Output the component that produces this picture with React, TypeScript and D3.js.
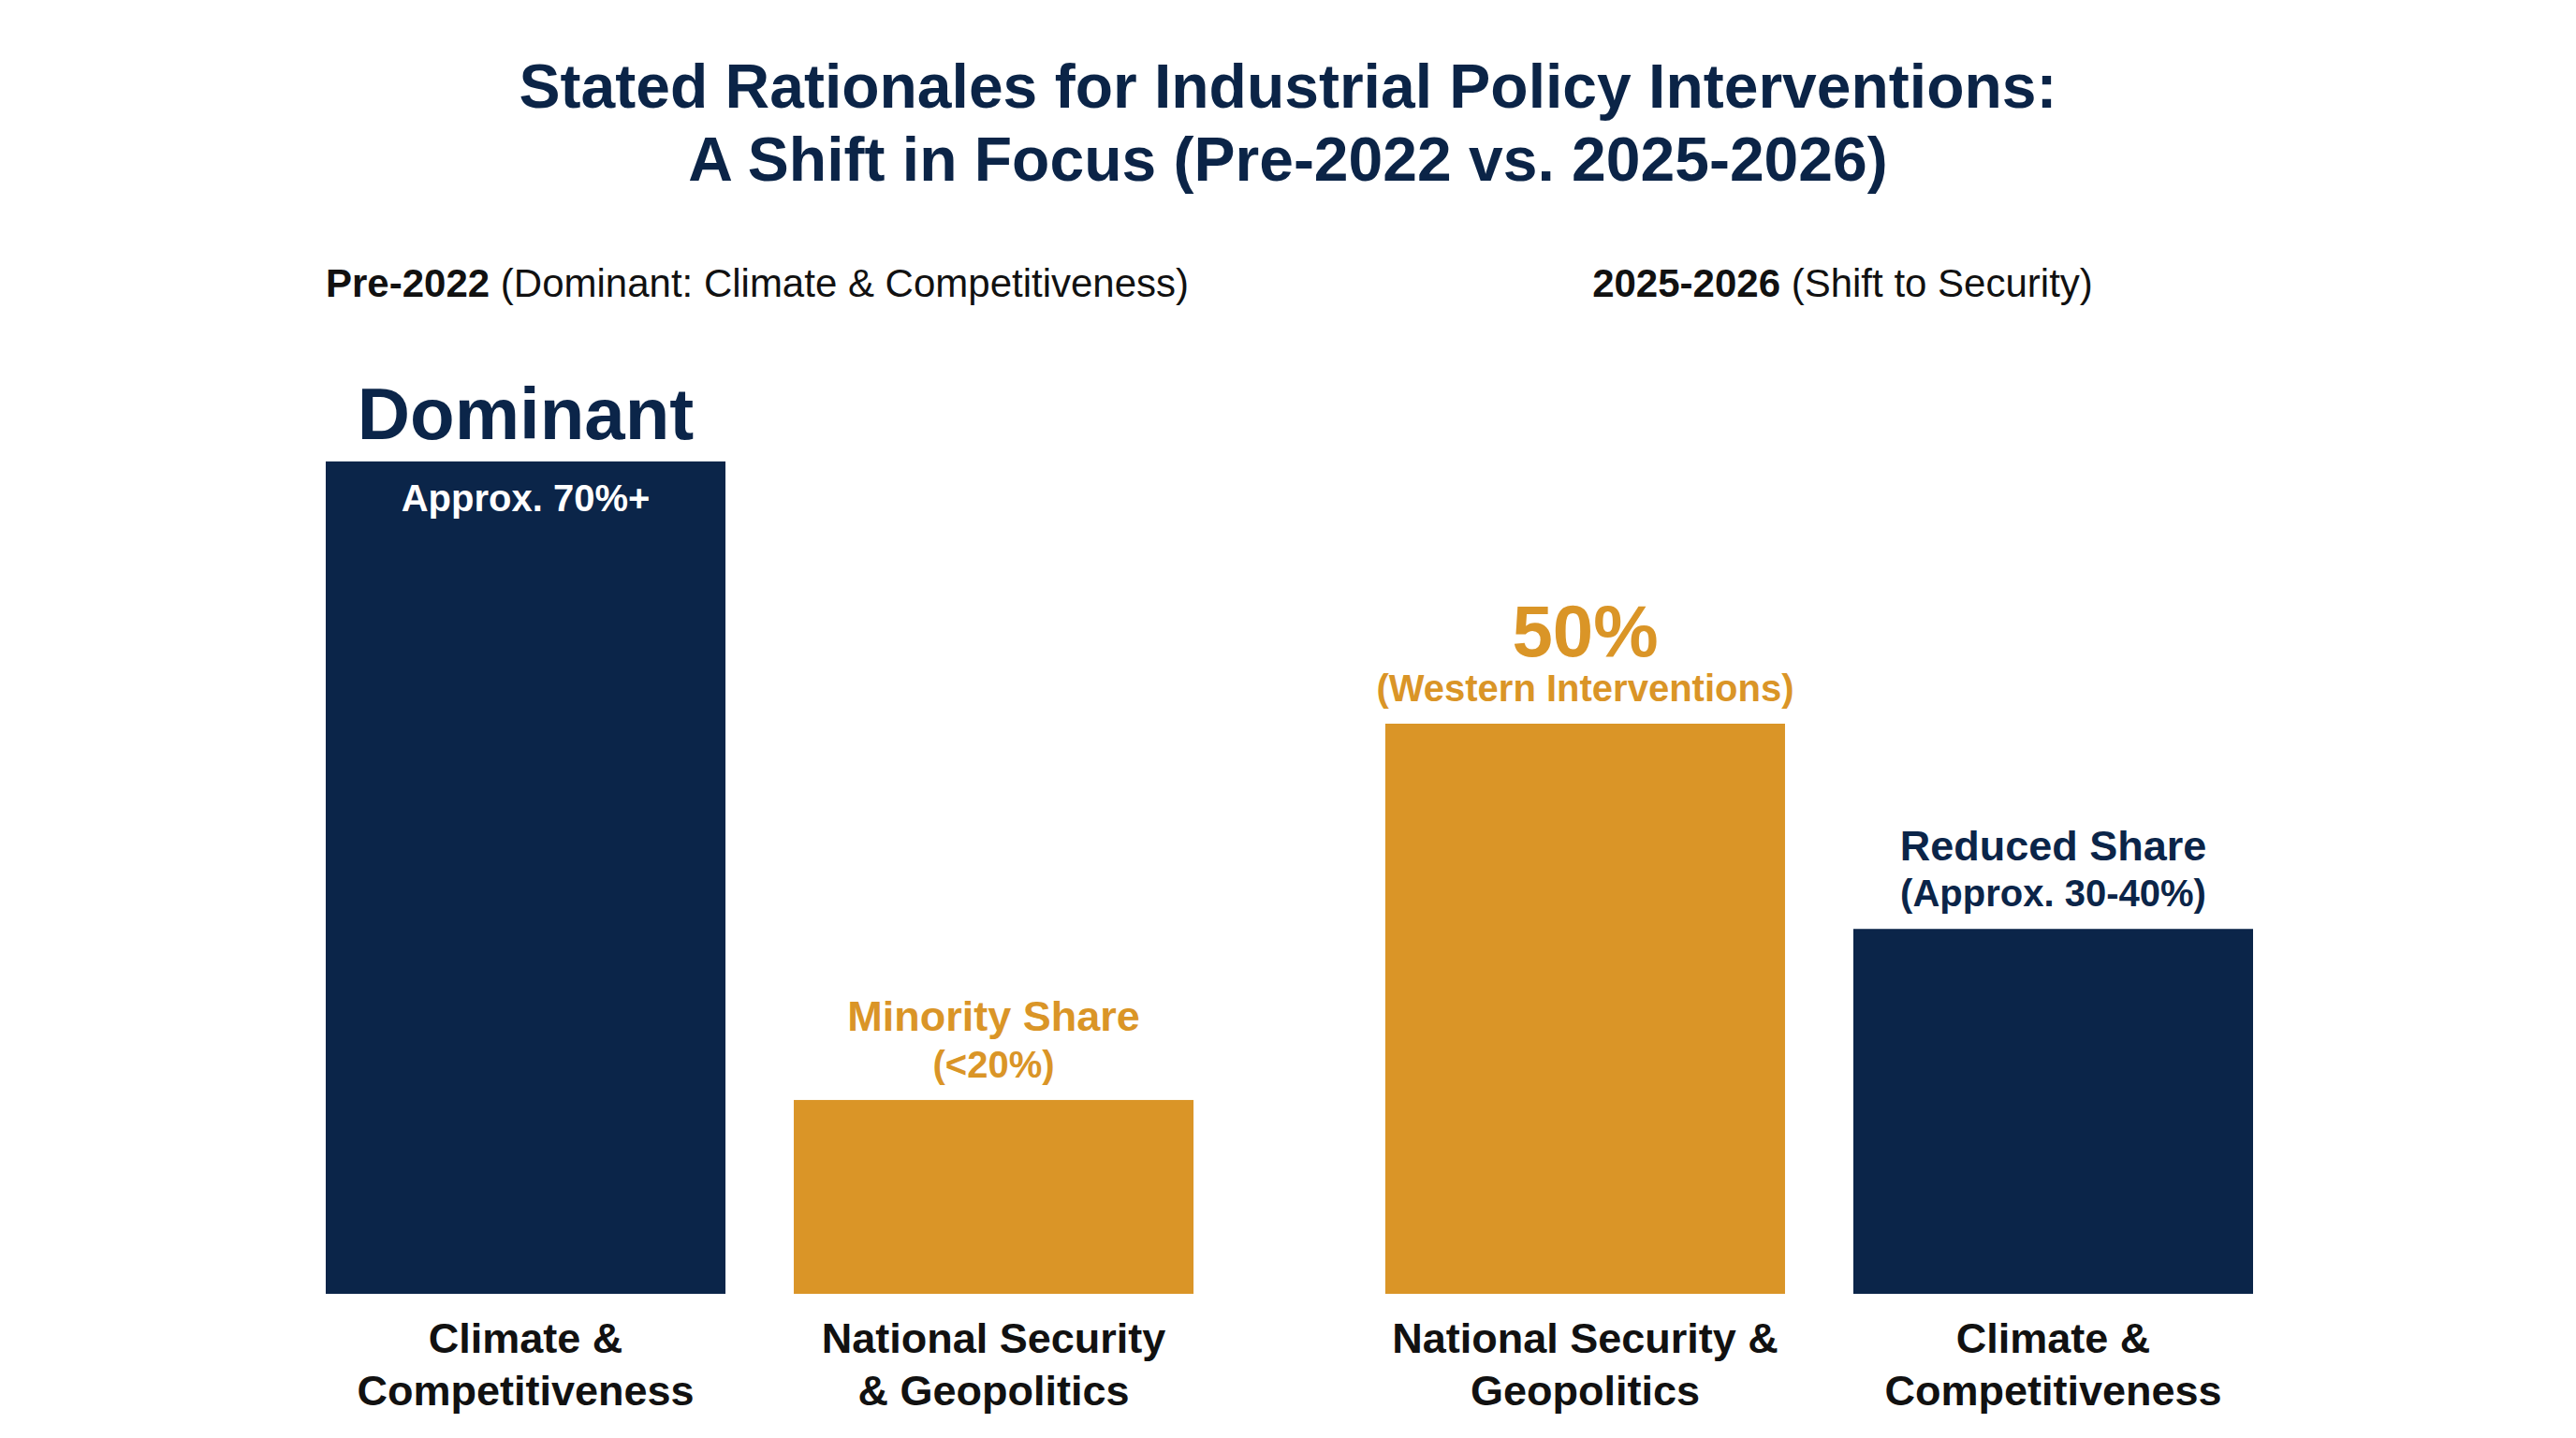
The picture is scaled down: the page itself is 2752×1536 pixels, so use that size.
import React, { useEffect, useRef } from "react";
import * as d3 from "d3";

// periods and the two bars inside each of them
const periods = ["Pre-2022", "2025-2026"];
const periodNotes = ["(Dominant: Climate & Competitiveness)", "(Shift to Security)"];
const categories = [
  ["Climate &", "Competitiveness"],
  ["National Security", "& Geopolitics"],
  ["National Security &", "Geopolitics"],
  ["Climate &", "Competitiveness"],
];
const barPeriod = [0, 0, 1, 1];
const barSlot = [0, 1, 0, 1];
const shares = [73, 17, 50, 32]; // estimated share of stated rationale, %
const barKind = ["climate", "security", "security", "climate"];

const NAVY = "#0b2549";
const GOLD = "#da9527";
const FONT = "'Liberation Sans', Arial, Helvetica, sans-serif";

const W = 2752;
const H = 1536;

const App: React.FC = () => {
  const svgRef = useRef<SVGSVGElement | null>(null);

  useEffect(() => {
    document.body.style.margin = "0";
    if (!svgRef.current) return;

    const svg = d3.select(svgRef.current);
    svg.selectAll("*").remove();

    const baseline = 1382;

    const outer = d3
      .scaleBand<number>()
      .domain([0, 1])
      .range([348, 2407])
      .paddingInner(0.181);

    const inner = d3
      .scaleBand<number>()
      .domain([0, 1])
      .range([0, outer.bandwidth()])
      .paddingInner(0.146);

    const y = d3.scaleLinear().domain([0, 100]).range([baseline, baseline - 1218]);

    const barX = (i: number) => (outer(barPeriod[i]) ?? 0) + (inner(barSlot[i]) ?? 0);
    const barMid = (i: number) => barX(i) + inner.bandwidth() / 2;
    const color = (i: number) => (barKind[i] === "climate" ? NAVY : GOLD);

    svg.append("rect").attr("width", W).attr("height", H).attr("fill", "#ffffff");

    // title
    const title = svg
      .append("text")
      .attr("x", W / 2)
      .attr("text-anchor", "middle")
      .attr("font-family", FONT)
      .attr("font-weight", "bold")
      .attr("font-size", 66)
      .attr("fill", "#0b2447");
    title.append("tspan").attr("x", W / 2).attr("y", 115).text("Stated Rationales for Industrial Policy Interventions:");
    title.append("tspan").attr("x", W / 2).attr("y", 193).text("A Shift in Focus (Pre-2022 vs. 2025-2026)");

    // period headers
    periods.forEach((p, k) => {
      const t = svg
        .append("text")
        .attr("y", 317)
        .attr("font-family", FONT)
        .attr("font-size", 42)
        .attr("fill", "#111111");
      if (k === 0) {
        t.attr("x", outer(k) ?? 0).attr("text-anchor", "start");
      } else {
        t.attr("x", (outer(k) ?? 0) + outer.bandwidth() / 2 + 25).attr("text-anchor", "middle");
      }
      t.append("tspan").attr("font-weight", "bold").text(p);
      t.append("tspan").text(" " + periodNotes[k]);
    });

    // bars
    svg
      .selectAll(".bar")
      .data(shares)
      .enter()
      .append("rect")
      .attr("class", "bar")
      .attr("x", (_, i) => barX(i))
      .attr("y", (d) => y(d))
      .attr("width", inner.bandwidth())
      .attr("height", (d) => baseline - y(d))
      .attr("fill", (_, i) => color(i));

    // category labels
    categories.forEach((lines, i) => {
      const t = svg
        .append("text")
        .attr("text-anchor", "middle")
        .attr("font-family", FONT)
        .attr("font-weight", "bold")
        .attr("font-size", 45)
        .attr("fill", "#111111");
      lines.forEach((l, j) => {
        t.append("tspan").attr("x", barMid(i)).attr("y", 1445 + j * 56).text(l);
      });
    });

    // annotations
    const note = (i: number, dy: number, txt: string, size: number, fill: string) =>
      svg
        .append("text")
        .attr("x", barMid(i))
        .attr("y", y(shares[i]) + dy)
        .attr("text-anchor", "middle")
        .attr("font-family", FONT)
        .attr("font-weight", "bold")
        .attr("font-size", size)
        .attr("fill", fill)
        .text(txt);

    note(0, -24, "Dominant", 78, NAVY);
    note(0, 53, "Approx. 70%+", 40, "#ffffff");
    note(1, -74, "Minority Share", 45, GOLD);
    note(1, -24, "(<20%)", 40, GOLD);
    note(2, -72, "50%", 78, GOLD);
    note(2, -24, "(Western Interventions)", 40, GOLD);
    note(3, -73, "Reduced Share", 45, NAVY);
    note(3, -24, "(Approx. 30-40%)", 40, NAVY);
  }, []);

  return <svg ref={svgRef} width={W} height={H} style={{ display: "block" }} />;
};

export default App;
